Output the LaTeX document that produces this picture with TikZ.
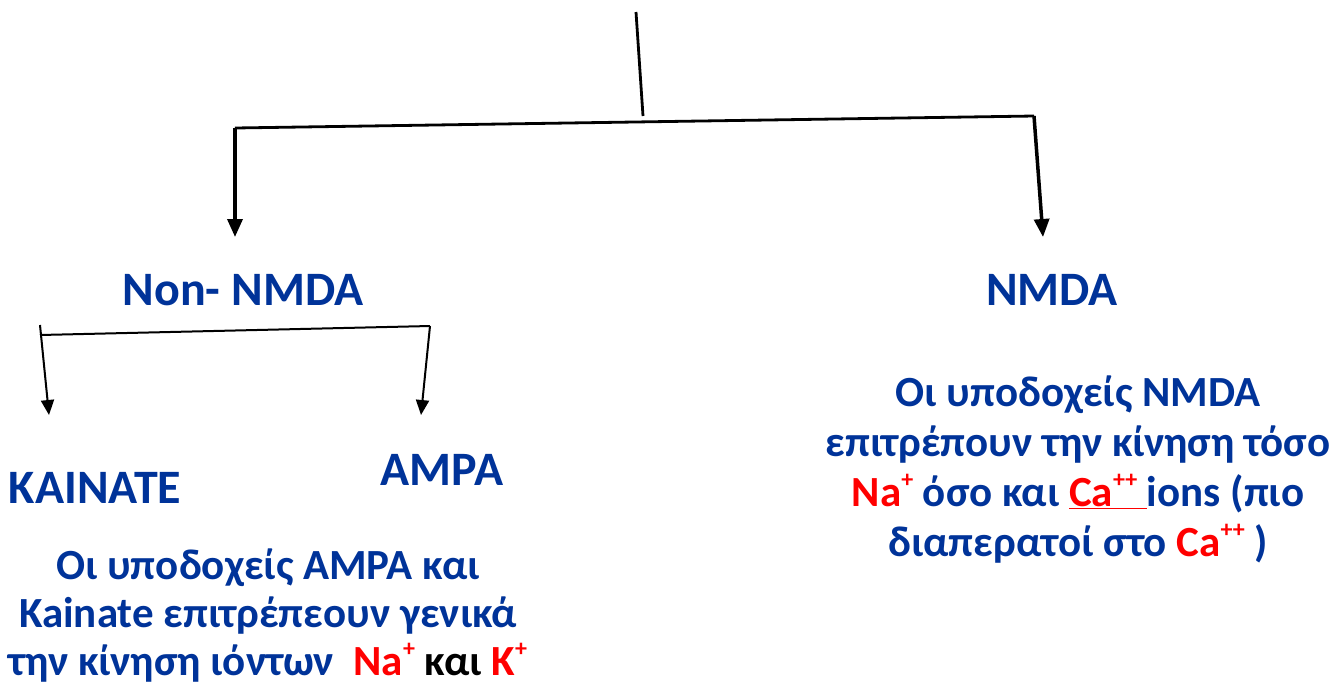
\documentclass[tikz,border=0pt]{standalone}
\usepackage{fontspec}
\setmainfont{Carlito}
\usetikzlibrary{arrows.meta}
\definecolor{tblue}{RGB}{0,51,153}
\definecolor{tred}{RGB}{255,0,0}
\newcommand\ionsup[1]{\raisebox{0.42em}{\fontsize{24}{24}\selectfont #1}}
\begin{document}
\begin{tikzpicture}[x=1pt,y=-1pt,
  head/.style={font=\fontsize{48}{56}\selectfont\bfseries, text=tblue, inner sep=0pt, anchor=base},
  desc/.style={font=\fontsize{43}{48}\selectfont\bfseries, text=tblue, inner sep=0pt, anchor=base, align=center},
  bar/.style={line width=2.8pt},
  bigarrow/.style={line width=3.5pt, -{Triangle[length=18pt,width=15pt]}},
  thinbar/.style={line width=2pt},
  smallarrow/.style={line width=2pt, -{Triangle[length=15pt,width=13pt]}}]
\useasboundingbox (0,0) rectangle (1332,681);
% text nodes (multi-line nodes are anchored at the baseline of their last line)
\node[head] (nonnmda) at (243,305) {Non- NMDA};
\node[head] (nmda) at (1052,305) {NMDA};
\node[head] (kainate) at (95,503) {KAINATE};
\node[head] (ampa) at (442,485) {AMPA};
\node[desc] (leftdesc) at (268,675) {Οι υποδοχείς AMPA και\\Kainate επιτρέπεουν γενικά\\την κίνηση ιόντων\ \ {\color{tred}Na\ionsup{+}} {\color{black}και} {\color{tred}K\ionsup{+}}};
\node[desc, font=\fontsize{43}{50}\selectfont\bfseries] (rightdesc) at (1078,556) {Οι υποδοχείς NMDA\\επιτρέπουν την κίνηση τόσο\\{\color{tred}Na\ionsup{+}} όσο και {\color{tred}\underline{Ca\ionsup{++}\ }}ions (πιο\\διαπερατοί στο {\color{tred}Ca\ionsup{++}} )};
% connector points
\coordinate (stemtop) at (636,12);
\coordinate (stembot) at (643,116);
\coordinate (barL) at (235,128);
\coordinate (barR) at (1034,116);
\coordinate (tipL) at (235,237);
\coordinate (tipR) at (1043,237);
\coordinate (sbarL) at (40,335);
\coordinate (sbarR) at (430,326);
\coordinate (stipL) at (49,415);
\coordinate (stipR) at (421,415);
% connectors
\draw[bar] (stemtop) -- (stembot);
\draw[bar] (barL) -- (barR);
\draw[bigarrow] (barL) -- (tipL);
\draw[bigarrow] (barR) -- (tipR);
\draw[thinbar] (sbarL) -- (sbarR);
\draw[smallarrow] ([yshift=10pt]sbarL) -- (stipL);
\draw[smallarrow] (sbarR) -- (stipR);
\end{tikzpicture}
\end{document}
